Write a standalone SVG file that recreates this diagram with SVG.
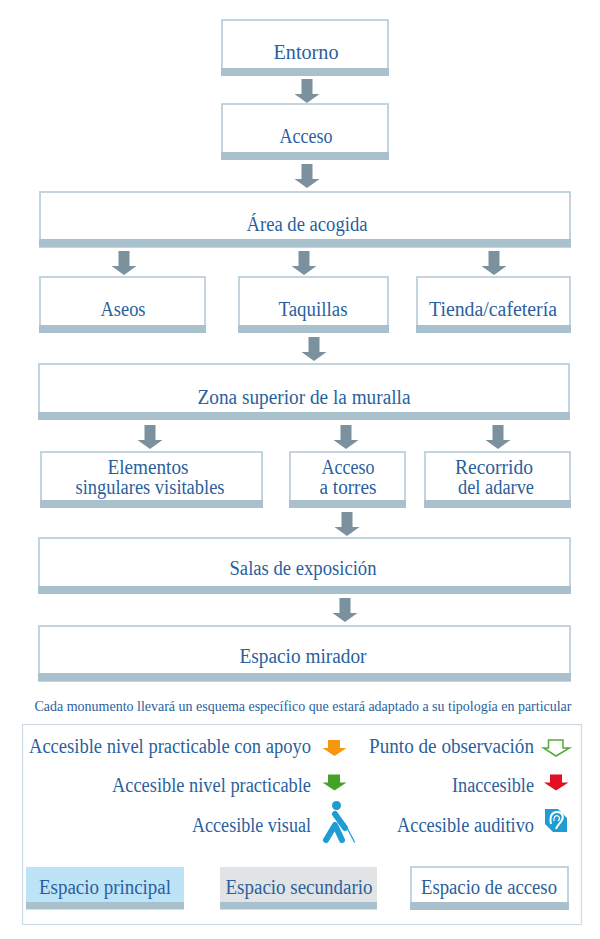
<svg xmlns="http://www.w3.org/2000/svg" width="600" height="939" viewBox="0 0 600 939">
<style>
text{font-family:"Liberation Serif","Times New Roman",serif;fill:#2a5f9e;font-size:20px;text-anchor:middle}
.e{text-anchor:end}
.s{font-size:14px}
.b{fill:#fff;stroke:#bcd0db;stroke-width:1.800}
.bar{fill:#a9c0cd}
.p{fill:#bde3f6;stroke:none}
.g{fill:#e2e3e4;stroke:none}
</style>
<defs>
<path id="a" d="M-5.500-12H5.500V3H12.500L0 12-12.500 3H-5.500Z"/>
<g id="ar"><use href="#a" fill="#7b929e"/></g>
</defs>
<g id="connectors">
<use href="#ar" x="307" y="91"/>
<use href="#ar" x="307" y="176"/>
<use href="#ar" x="124" y="263"/>
<use href="#ar" x="304" y="263"/>
<use href="#ar" x="494" y="263"/>
<use href="#ar" x="314" y="349"/>
<use href="#ar" x="150" y="437"/>
<use href="#ar" x="346" y="437"/>
<use href="#ar" x="498" y="437"/>
<use href="#ar" x="347" y="524"/>
<use href="#ar" x="345" y="610"/>
</g>
<g id="n1"><rect class="b" x="222" y="20" width="166" height="55"/><rect class="bar" x="221" y="68" width="168" height="8"/><text x="306" y="59" textLength="65" lengthAdjust="spacingAndGlyphs">Entorno</text></g>
<g id="n2"><rect class="b" x="222" y="104" width="166" height="55"/><rect class="bar" x="221" y="152" width="168" height="8"/><text x="306" y="143" textLength="53" lengthAdjust="spacingAndGlyphs">Acceso</text></g>
<g id="n3"><rect class="b" x="40" y="192" width="530" height="55"/><rect class="bar" x="39" y="239" width="532" height="8"/><text x="307" y="231" textLength="121" lengthAdjust="spacingAndGlyphs">Área de acogida</text></g>
<g id="n4"><rect class="b" x="40" y="277" width="165" height="55"/><rect class="bar" x="39" y="325" width="167" height="8"/><text x="123" y="316" textLength="45" lengthAdjust="spacingAndGlyphs">Aseos</text></g>
<g id="n5"><rect class="b" x="239" y="277" width="149" height="55"/><rect class="bar" x="238" y="325" width="151" height="8"/><text x="313" y="316" textLength="69" lengthAdjust="spacingAndGlyphs">Taquillas</text></g>
<g id="n6"><rect class="b" x="417" y="277" width="153" height="55"/><rect class="bar" x="416" y="325" width="155" height="8"/><text x="493" y="316" textLength="128" lengthAdjust="spacingAndGlyphs">Tienda/cafetería</text></g>
<g id="n7"><rect class="b" x="39" y="364" width="530" height="55"/><rect class="bar" x="38" y="412" width="532" height="8"/><text x="304" y="404" textLength="213" lengthAdjust="spacingAndGlyphs">Zona superior de la muralla</text></g>
<g id="n8"><rect class="b" x="41" y="452" width="221" height="55"/><rect class="bar" x="40" y="500" width="223" height="8"/><text x="148" y="474" textLength="81" lengthAdjust="spacingAndGlyphs">Elementos</text><text x="150" y="494" textLength="149" lengthAdjust="spacingAndGlyphs">singulares visitables</text></g>
<g id="n9"><rect class="b" x="290" y="452" width="115" height="55"/><rect class="bar" x="289" y="500" width="117" height="8"/><text x="348" y="474" textLength="53" lengthAdjust="spacingAndGlyphs">Acceso</text><text x="348" y="494" textLength="57" lengthAdjust="spacingAndGlyphs">a torres</text></g>
<g id="n10"><rect class="b" x="425" y="452" width="145" height="55"/><rect class="bar" x="424" y="500" width="147" height="8"/><text x="494" y="474" textLength="78" lengthAdjust="spacingAndGlyphs">Recorrido</text><text x="496" y="494" textLength="76" lengthAdjust="spacingAndGlyphs">del adarve</text></g>
<g id="n11"><rect class="b" x="39" y="538" width="531" height="55"/><rect class="bar" x="38" y="586" width="533" height="8"/><text x="303" y="575" textLength="147" lengthAdjust="spacingAndGlyphs">Salas de exposición</text></g>
<g id="n12"><rect class="b" x="39" y="626" width="531" height="55"/><rect class="bar" x="38" y="673" width="533" height="8"/><text x="303" y="663" textLength="127" lengthAdjust="spacingAndGlyphs">Espacio mirador</text></g>
<text class="s" x="303" y="711" textLength="537" lengthAdjust="spacingAndGlyphs">Cada monumento llevará un esquema específico que estará adaptado a su tipología en particular</text>
<g id="legend">
<rect x="22.500" y="724.500" width="559" height="200" fill="#fff" stroke="#cfdce4" stroke-width="1.300"/>
<text class="e" x="311" y="753" textLength="282" lengthAdjust="spacingAndGlyphs">Accesible nivel practicable con apoyo</text>
<text class="e" x="311" y="792" textLength="199" lengthAdjust="spacingAndGlyphs">Accesible nivel practicable</text>
<text class="e" x="311" y="832" textLength="119" lengthAdjust="spacingAndGlyphs">Accesible visual</text>
<text class="e" x="534" y="753" textLength="165" lengthAdjust="spacingAndGlyphs">Punto de observación</text>
<text class="e" x="534" y="792" textLength="82" lengthAdjust="spacingAndGlyphs">Inaccesible</text>
<text class="e" x="534" y="832" textLength="137" lengthAdjust="spacingAndGlyphs">Accesible auditivo</text>
<path d="M328 740H340V748H346.500L334.500 756 322.500 748H328Z" fill="#f7960f"/>
<path d="M328 774.500H340V782.500H346.500L334.500 790.500 322.500 782.500H328Z" fill="#44a226"/>
<path d="M548.500 740H563V748H569.500L556 756 543.500 748H548.500Z" fill="#fff" stroke="#56a93c" stroke-width="1.500"/>
<path d="M550 774.500H562V782.500H568.500L556 790.500 544 782.500H550Z" fill="#e30f22"/>
<g id="visual" fill="none" stroke="#1f9cd3" stroke-linecap="round" stroke-linejoin="round">
<circle cx="336.500" cy="805.500" r="4.500" fill="#1f9cd3" stroke="none"/>
<path d="M335 814L345 828" stroke-width="6"/>
<path d="M326 840L335 825L342 840" stroke-width="6"/>
<path d="M345 824L354.500 842" stroke-width="1.300"/>
</g>
<g id="auditivo">
<rect x="545" y="809" width="22" height="23" fill="#1f9cd3"/>
<path d="M558 809H567V818Z" fill="#fff"/>
<path d="M545 832V824L553 832Z" fill="#fff"/>
<path d="M551 824C549 815 553 812 557 812C562 812 564 816 562 820C560 824 557 825 556 829" fill="none" stroke="#fff" stroke-width="2"/>
<path d="M554 821C553 817 556 815 558 816C560 817 560 819 558 821" fill="none" stroke="#fff" stroke-width="1.300"/>
</g>
<g id="k1"><rect class="p" x="26" y="867" width="158" height="36"/><rect class="bar" x="26" y="902" width="158" height="7.500"/><text x="105" y="894" textLength="132" lengthAdjust="spacingAndGlyphs">Espacio principal</text></g>
<g id="k2"><rect class="g" x="220" y="867" width="157" height="36"/><rect class="bar" x="220" y="902" width="157" height="7.500"/><text x="299" y="894" textLength="147" lengthAdjust="spacingAndGlyphs">Espacio secundario</text></g>
<g id="k3"><rect class="b" x="411" y="867" width="157" height="42"/><rect class="bar" x="410" y="902" width="159" height="8"/><text x="489" y="894" textLength="136" lengthAdjust="spacingAndGlyphs">Espacio de acceso</text></g>
</g>
</svg>
